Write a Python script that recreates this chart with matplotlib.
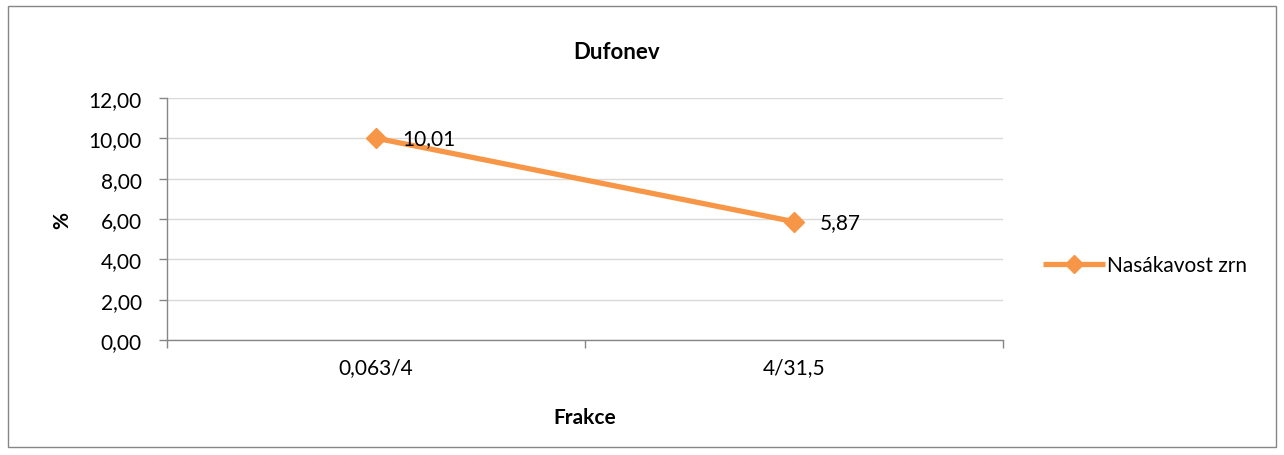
import matplotlib.pyplot as plt
from matplotlib.patches import Rectangle

categories = ["0,063/4", "4/31,5"]
values = [10.01, 5.87]
value_labels = ["10,01", "5,87"]
yticks = [0, 2, 4, 6, 8, 10, 12]
ytick_labels = ["0,00", "2,00", "4,00", "6,00", "8,00", "10,00", "12,00"]
series_name = "Nasákavost zrn"

plt.rcParams['font.family'] = ['Lato', 'DejaVu Sans']
orange = "#F79646"
grey = "#868686"
fs = 15

fig = plt.figure(figsize=(12.84, 4.56), dpi=100)
ax = fig.add_axes([0.130, 0.252, 0.651, 0.531])

x = list(range(len(categories)))
ax.plot(x, values, color=orange, lw=3.8, marker="D", markersize=10,
        label=series_name, zorder=3, solid_capstyle="butt")
for xi, v, lab in zip(x, values, value_labels):
    ax.annotate(lab, (xi, v), xytext=(19, 0), textcoords="offset points",
                va="center", ha="left", fontsize=fs)

ax.set_xlim(-0.5, len(categories) - 0.5)
ax.set_ylim(0, 12)
ax.set_yticks(yticks)
ax.set_yticklabels(ytick_labels, fontsize=fs)
ax.set_xticks(x)
ax.set_xticklabels(categories, fontsize=fs)
ax.set_xticks([-0.5, 0.5, 1.5], minor=True)
ax.tick_params(axis="x", which="major", length=0, pad=12)
ax.tick_params(axis="x", which="minor", length=6, color=grey, width=1)
ax.tick_params(axis="y", length=6, color=grey, width=1, pad=12)
ax.grid(axis="y", color="#D9D9D9", lw=1)
ax.set_axisbelow(True)
for s in ["top", "right"]:
    ax.spines[s].set_visible(False)
for s in ["left", "bottom"]:
    ax.spines[s].set_color(grey)
    ax.spines[s].set_linewidth(1)

ax.set_xlabel("Frakce", fontsize=fs, fontweight="bold", labelpad=22)
ax.set_ylabel("%", fontsize=fs, fontweight="bold", labelpad=12)
fig.text(0.4805, 0.884, "Dufonev", ha="center", va="center",
         fontsize=16, fontweight="bold")

ax.legend(loc="center left", bbox_to_anchor=(1.038, 0.31), frameon=False,
          fontsize=fs, handlelength=3.0, handletextpad=0.1, borderaxespad=0,
          markerscale=0.9)

fig.patches.append(Rectangle((8 / 1284, 8 / 456), 1268 / 1284, 441 / 456,
                             transform=fig.transFigure, fill=False,
                             edgecolor=grey, lw=1))

fig.savefig("out.png", dpi=100)
